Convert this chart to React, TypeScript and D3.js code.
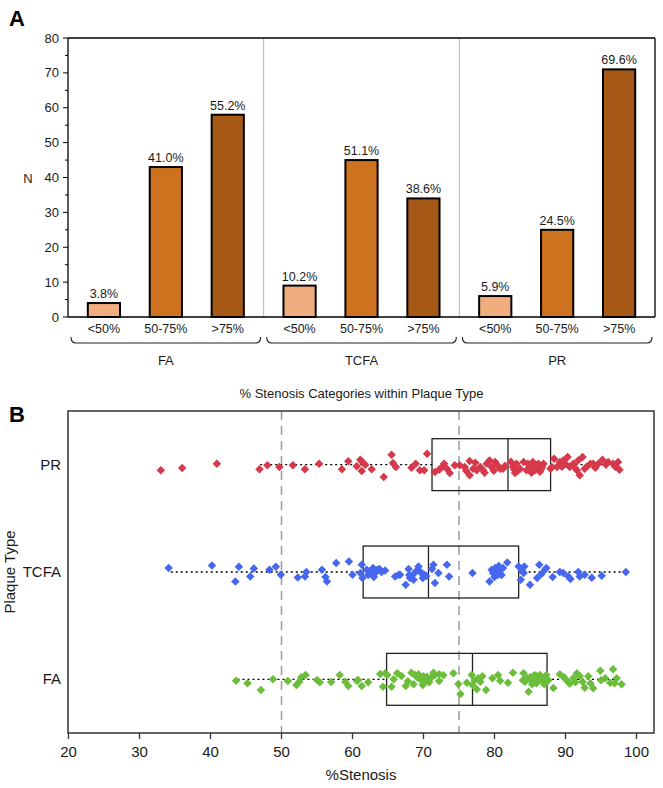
import React from "react";
import * as d3 from "d3";

// ---------- Panel A data ----------
const plaqueGroups = ["FA", "TCFA", "PR"];
const stenosisCats = ["<50%", "50-75%", ">75%"];
const faCounts = [4, 43, 58];
const tcfaCounts = [9, 45, 34];
const prCounts = [6, 25, 71];
const faPct = ["3.8%", "41.0%", "55.2%"];
const tcfaPct = ["10.2%", "51.1%", "38.6%"];
const prPct = ["5.9%", "24.5%", "69.6%"];
const yTicksA = [0, 10, 20, 30, 40, 50, 60, 70, 80];
const catColors = ["#F0AE7E", "#CD721F", "#A65817"];

// ---------- Panel B data ----------
const plaqueTypesB = ["PR", "TCFA", "FA"];
const xTicksB = [20, 30, 40, 50, 60, 70, 80, 90, 100];
const refLines = [50, 75];
const boxLo = [47.0, 34.4, 43.8];
const boxQ1 = [71.2, 61.5, 64.8];
const boxMed = [81.9, 70.7, 76.9];
const boxQ3 = [87.9, 83.4, 87.4];
const boxHi = [97.6, 98.3, 97.5];
const typeColors = ["#D7384B", "#4767EE", "#6CBD3B"];

const prValues = [33.0,36.0,40.9,46.9,48.0,49.7,51.6,53.3,55.3,58.5,59.4,60.6,61.1,61.4,61.8,61.3,62.7,64.4,65.5,65.7,66.1,
68.3,68.9,69.5,70.1,70.5,71.6,72.6,72.9,73.3,73.7,74.4,75.1,75.8,76.5,76.5,77.0,77.5,78.0,78.4,78.9,79.3,79.6,80.1,80.4,80.8,81.2,82.6,82.9,83.1,83.6,84.1,84.5,85.0,85.4,85.7,86.2,86.6,86.9,88.1,88.4,88.8,89.2,89.7,90.3,90.6,91.1,91.6,91.8,92.0,92.4,92.7,93.5,93.9,94.6,95.2,96.0,96.7,97.4,97.6,
76.0,77.3,78.6,79.9,81.5,82.3,82.8,83.3,84.7,85.2,85.9,86.4,86.7,87.9,89.5,90.0,91.3,93.0,94.2,95.7,97.0,72.2];
const prJitter = [5.7,3.4,-1,4.7,0.7,2.4,0.7,4.7,-1,4.7,-3.3,1.7,-5,-2.6,0,6.4,4.7,12.4,-10,-1.6,2.4,
3,-1,5.7,5.7,-11,7.4,2.4,-1,4,8.4,0.7,0.7,2.4,-3.6,10.7,4,5.7,2.4,5.7,-1,-4.3,2.4,-2.6,0.7,4,4,2.4,8.4,-1,4,-2.6,5.7,2.4,-2.6,5.7,-1,4,-1,2.4,-6,2.4,-2.6,-4.3,-7.6,2.4,-1,5.7,-4.3,10.7,-7.6,4,-1,-1,-1,-5,-2.6,-1,-2.6,5,
6,-2,8,6,1,-3,5,6,-1,8,1,7,2,4,2,-1,3,2,3,0,2,5];

const tcfaValues = [34.1,40.2,43.5,44.0,45.6,46.1,48.3,49.2,49.9,52.3,53.3,53.5,55.7,56.2,56.4,57.7,59.5,60.0,61.1,61.3,61.4,62.0,62.5,62.9,63.2,63.5,64.1,64.6,66.0,66.5,
66.7,67.5,67.9,68.1,68.5,68.6,69.3,69.5,69.7,69.9,70.1,71.2,71.4,71.6,72.1,73.3,73.6,76.9,79.3,79.6,79.8,80.1,80.3,80.5,80.8,81.2,81.8,83.4,83.7,84.1,84.2,85.0,86.0,86.3,87.1,87.3,88.2,89.2,89.7,90.4,90.7,91.8,92.0,92.7,93.7,95.1,98.5,
62.2,63.0,63.8,68.0,69.0,70.4,80.0,80.6,81.0,83.9,86.6];
const tcfaJitter = [-4,-6.6,9.4,-5.3,4.4,-3.6,-2.3,-5.3,2.7,5.4,4.4,0,-2.3,5,9.4,-9,-10.6,2.7,1,-7.3,6,-2.3,-0.6,-4,1,-2.3,0,-1.6,4.4,2.7,
2.7,12.7,-3,6,2.7,7.7,-5.6,-0.6,1,6,2.7,-3,-7.3,11,1,-7.3,4.4,1,9.4,-2.3,1,-4,-0.6,2.7,-2.3,-4,-9.6,-5.6,7.7,1,-5.6,12.7,6,-7.3,-2.3,-4,5,0,1,4.4,7,0,4.4,2.7,5.7,3.7,0,
3,5,-3,3,-1,4,5,-6,3,-1,2];

const faValues = [43.6,45.2,47.1,48.8,50.9,52.1,52.5,52.8,53.4,55.0,55.4,57.0,58.2,59.0,59.4,60.6,60.8,61.3,62.2,63.9,64.3,64.6,64.9,65.5,65.8,
66.9,67.5,68.3,68.8,69.1,69.5,69.9,70.2,70.5,71.4,71.6,72.2,72.2,74.2,74.9,75.2,76.1,76.8,76.9,77.5,77.7,78.0,78.8,79.7,80.5,80.8,81.9,82.6,84.1,84.3,84.8,85.0,85.2,85.5,85.7,85.9,86.2,86.4,86.9,87.3,88.3,89.2,90.2,90.6,91.1,91.6,92.0,92.4,92.7,93.5,93.9,94.9,95.6,96.3,96.7,97.2,97.9,
66.3,67.8,68.6,69.3,70.0,70.8,71.0,72.8,77.2,78.3,84.0,84.6,85.3,85.8,86.0,86.7,87.0,87.6,89.8,91.4,93.2,95.0,96.9];
const faJitter = [1.4,4,10.7,0,1.7,5.7,2.4,-2,-4.3,0.7,3,2.7,-4.3,2.4,6.7,1.4,0.7,6.7,3,-5.3,7.4,-6,-4.3,7.4,0,
-3.3,6.7,-6.6,-4.3,-2,0,5.7,2.4,-2.6,-6.6,-4.3,-5,1.7,-6,4.7,14.7,3.4,-4.3,5.7,10,-1,2.4,10.7,-1,-4.3,1.4,3.4,-6.6,-6,2.4,12.4,-2,1.4,-3.6,0,4,-2,-4.3,2.4,-4.3,8.7,-5,1.4,4.4,-1,-6,-3.3,2.4,8.4,4,9,-8.6,-1,3.4,-10,-1,5,
-6,2,5,-5,-3,3,-1,-4,1,-3,1,-1,5,-4,2,-1,5,1,-2,3,-3,1,4];

const FONT = "'Liberation Sans', Arial, Helvetica, sans-serif";
const TXT = "#1a1a1a";

export default function App() {
  const W = 663, H = 788;

  // ----- Panel A scales -----
  const aLeft = 68, aRight = 655, aTop = 38, aBottom = 317;
  const groupX = d3.scaleBand().domain(plaqueGroups).range([aLeft, aRight]).padding(0);
  const catX = d3.scaleBand().domain(stenosisCats).range([0, groupX.bandwidth()])
    .paddingInner(0.48).paddingOuter(0.32);
  const yA = d3.scaleLinear().domain([0, 80]).range([aBottom, aTop]);
  const countsByGroup = [faCounts, tcfaCounts, prCounts];
  const pctByGroup = [faPct, tcfaPct, prPct];
  const minorTicksA = d3.range(5, 80, 10);

  // ----- Panel B scales -----
  const bLeft = 68, bRight = 654, bTop = 411, bBottom = 733;
  const xB = d3.scaleLinear().domain([20, 100]).range([68.5, 636.5]);
  const yB = d3.scaleBand().domain(plaqueTypesB).range([bTop, bBottom]);
  const jScale = yB.bandwidth() / 107.5;
  const boxH = 52 * jScale;
  const valuesByType = [prValues, tcfaValues, faValues];
  const jitterByType = [prJitter, tcfaJitter, faJitter];
  const diamond = d3.symbol().type(d3.symbolDiamond2).size(46)();

  const bracePath = (x0: number, x1: number, y: number) =>
    `M${x0},${y - 6} Q${x0},${y} ${x0 + 5},${y} L${x1 - 5},${y} Q${x1},${y} ${x1},${y - 6}`;

  return (
    <svg width={W} height={H} style={{ position: "absolute", left: 0, top: 0, background: "#fff" }}
      fontFamily={FONT}>
      {/* ================= Panel A ================= */}
      <text x={9} y={26} fontSize={22} fontWeight="bold" fill="#000">A</text>

      {/* group separators */}
      {plaqueGroups.slice(1).map((g) => (
        <line key={g} x1={groupX(g)!} x2={groupX(g)!} y1={aTop} y2={aBottom} stroke="#b5b5b5" strokeWidth={1} />
      ))}

      {/* bars */}
      {plaqueGroups.map((g, gi) =>
        stenosisCats.map((c, ci) => {
          const x = groupX(g)! + catX(c)!;
          const v = countsByGroup[gi][ci];
          return (
            <g key={g + c}>
              <rect x={x} y={yA(v)} width={catX.bandwidth()} height={yA(0) - yA(v)}
                fill={catColors[ci]} stroke="#000" strokeWidth={2} />
              <text x={x + catX.bandwidth() / 2} y={yA(v) - 5} textAnchor="middle" fontSize={12.5} fill={TXT}>
                {pctByGroup[gi][ci]}
              </text>
              <text x={x + catX.bandwidth() / 2} y={333} textAnchor="middle" fontSize={12.5} fill={TXT}>{c}</text>
            </g>
          );
        })
      )}

      {/* frame */}
      <line x1={aLeft} x2={aRight} y1={aTop} y2={aTop} stroke="#000" strokeWidth={1.3} />
      <line x1={aRight} x2={aRight} y1={aTop} y2={aBottom} stroke="#000" strokeWidth={1.3} />
      <line x1={aLeft} x2={aRight} y1={aBottom} y2={aBottom} stroke="#000" strokeWidth={1.3} />
      <line x1={aLeft} x2={aLeft} y1={aTop} y2={aBottom} stroke="#000" strokeWidth={1.3} />

      {/* y axis ticks */}
      {yTicksA.map((t) => (
        <g key={t}>
          <line x1={aLeft - 5} x2={aLeft} y1={yA(t)} y2={yA(t)} stroke="#000" strokeWidth={1} />
          <text x={aLeft - 9} y={yA(t) + 4.5} textAnchor="end" fontSize={13} fill={TXT}>{t}</text>
        </g>
      ))}
      {minorTicksA.map((t) => (
        <line key={"m" + t} x1={aLeft - 3} x2={aLeft} y1={yA(t)} y2={yA(t)} stroke="#000" strokeWidth={1} />
      ))}
      <text x={28} y={yA(40) + 5} textAnchor="middle" fontSize={13} fill={TXT}>N</text>

      {/* braces and group labels */}
      {plaqueGroups.map((g) => {
        const x0 = groupX(g)! + 3, x1 = groupX(g)! + groupX.bandwidth() - 3;
        return (
          <g key={"b" + g}>
            <path d={bracePath(x0, x1, 343)} fill="none" stroke="#222" strokeWidth={1.1} />
            <text x={(x0 + x1) / 2} y={365} textAnchor="middle" fontSize={13} fill={TXT}>{g}</text>
          </g>
        );
      })}
      <text x={(aLeft + aRight) / 2} y={398} textAnchor="middle" fontSize={13} fill={TXT}>
        % Stenosis Categories within Plaque Type
      </text>

      {/* ================= Panel B ================= */}
      <text x={9} y={422} fontSize={22} fontWeight="bold" fill="#000">B</text>

      {/* reference dashed lines */}
      {refLines.map((r) => (
        <line key={r} x1={xB(r)} x2={xB(r)} y1={bTop} y2={bBottom} stroke="#9a9a9a" strokeWidth={1.5}
          strokeDasharray="9,6" />
      ))}

      {plaqueTypesB.map((p, i) => {
        const cy = yB(p)! + yB.bandwidth() / 2;
        const vals = valuesByType[i];
        const jit = jitterByType[i];
        const n = Math.min(vals.length, jit.length);
        return (
          <g key={p}>
            {/* whiskers (dotted) */}
            <line x1={xB(boxLo[i])} x2={xB(boxQ1[i])} y1={cy} y2={cy} stroke="#000" strokeWidth={1.3} strokeDasharray="2,3" />
            <line x1={xB(boxQ3[i])} x2={xB(boxHi[i])} y1={cy} y2={cy} stroke="#000" strokeWidth={1.3} strokeDasharray="2,3" />
            {/* box */}
            <rect x={xB(boxQ1[i])} y={cy - boxH / 2} width={xB(boxQ3[i]) - xB(boxQ1[i])} height={boxH}
              fill="none" stroke="#222" strokeWidth={1.3} />
            <line x1={xB(boxMed[i])} x2={xB(boxMed[i])} y1={cy - boxH / 2} y2={cy + boxH / 2} stroke="#222" strokeWidth={1.3} />
            {/* points */}
            {d3.range(n).map((k) => (
              <path key={k} d={diamond!} transform={`translate(${xB(vals[k])},${cy + jit[k] * jScale})`}
                fill={typeColors[i]} />
            ))}
            <text x={61} y={cy + 5} textAnchor="end" fontSize={15} fill={TXT}>{p}</text>
          </g>
        );
      })}

      {/* frame */}
      <rect x={bLeft} y={bTop} width={bRight - bLeft} height={bBottom - bTop} fill="none" stroke="#333" strokeWidth={1.5} />

      {/* x axis */}
      {xTicksB.map((t) => (
        <g key={t}>
          <line x1={xB(t)} x2={xB(t)} y1={bBottom} y2={bBottom + 6} stroke="#333" strokeWidth={1.3} />
          <text x={xB(t)} y={bBottom + 24} textAnchor="middle" fontSize={15} fill={TXT}>{t}</text>
        </g>
      ))}
      <text x={(bLeft + bRight) / 2} y={780} textAnchor="middle" fontSize={15} fill={TXT}>%Stenosis</text>
      <text transform={`translate(15,${(bTop + bBottom) / 2}) rotate(-90)`} textAnchor="middle" fontSize={15} fill={TXT}>
        Plaque Type
      </text>
    </svg>
  );
}
